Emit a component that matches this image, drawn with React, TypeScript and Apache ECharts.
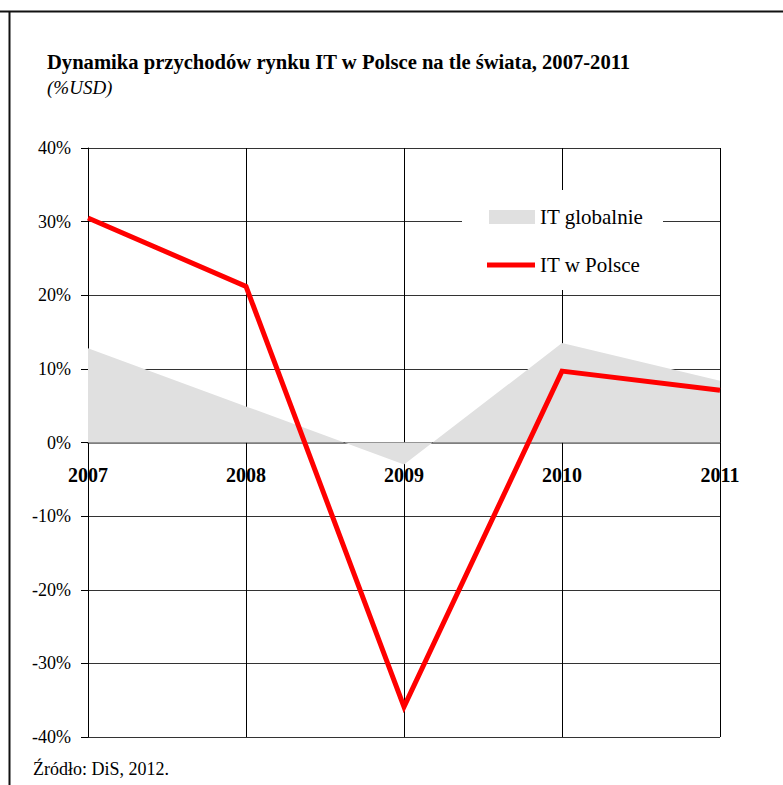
import React, { useEffect, useRef } from "react";
import * as echarts from "echarts";

const years = ["2007", "2008", "2009", "2010", "2011"];
const itGlobal = [12.8, 4.9, -3.0, 13.5, 8.4];
const itPoland = [30.5, 21.2, -35.9, 9.7, 7.1];
const yTicks = { min: -40, max: 40, interval: 10 };
const seriesNames = ["IT globalnie", "IT w Polsce"];

const titleText = "Dynamika przychodów rynku IT w Polsce na tle świata, 2007-2011";
const subtitleText = "(%USD)";
const sourceText = "Źródło: DiS, 2012.";
const serif = "'Liberation Serif', 'Times New Roman', serif";

export default function App() {
  const ref = useRef<HTMLDivElement>(null);
  useEffect(() => {
    document.body.style.margin = "0";
    if (!ref.current) return;
    const chart = echarts.init(ref.current, undefined, { renderer: "svg" });
    const gridTop = 148;
    const gridBottom = 48;
    const gridH = 785 - gridTop - gridBottom;
    const zeroOffset = -gridH * (0 - yTicks.min) / (yTicks.max - yTicks.min);
    chart.setOption({
      animation: false,
      backgroundColor: "#ffffff",
      textStyle: { fontFamily: serif },
      title: {
        text: titleText,
        subtext: subtitleText,
        left: 42,
        top: 46,
        itemGap: 6,
        textStyle: { fontFamily: serif, fontSize: 20.6, fontWeight: "bold", color: "#000" },
        subtextStyle: { fontFamily: serif, fontSize: 19, fontStyle: "italic", color: "#000" },
      },
      grid: { left: 88, right: 63, top: gridTop, bottom: gridBottom, containLabel: false },
      xAxis: {
        type: "category",
        data: years,
        boundaryGap: false,
        position: "bottom",
        offset: zeroOffset,
        axisLine: { show: true, onZero: false, lineStyle: { color: "#555", width: 1.5 } },
        axisTick: { show: true, inside: false, length: 5, lineStyle: { color: "#000" } },
        axisLabel: {
          margin: 22,
          fontFamily: serif,
          fontSize: 20,
          fontWeight: "bold",
          color: "#000",
        },
        splitLine: { show: true, lineStyle: { color: "#000", width: 1 } },
      },
      yAxis: {
        type: "value",
        min: yTicks.min,
        max: yTicks.max,
        interval: yTicks.interval,
        axisLine: { show: true, lineStyle: { color: "#000", width: 1 } },
        axisTick: { show: true, inside: false, length: 7, lineStyle: { color: "#000" } },
        axisLabel: {
          margin: 17,
          fontFamily: serif,
          fontSize: 18,
          color: "#000",
          formatter: "{value}%",
        },
        splitLine: { show: true, lineStyle: { color: "#333", width: 1 } },
      },
      series: [
        {
          name: seriesNames[0],
          type: "line",
          data: itGlobal,
          symbol: "none",
          lineStyle: { width: 0, color: "#e0e0e0" },
          itemStyle: { color: "#e0e0e0" },
          areaStyle: { color: "#e0e0e0", opacity: 1 },
          z: 1,
        },
        {
          name: seriesNames[1],
          type: "line",
          data: itPoland,
          symbol: "none",
          lineStyle: { width: 5, color: "#ff0000", join: "miter" },
          itemStyle: { color: "#ff0000" },
          z: 3,
        },
      ],
      graphic: [
        { type: "line", z: 100, shape: { x1: 0, y1: 11.5, x2: 783, y2: 11.5 }, style: { stroke: "#111", lineWidth: 2 } },
        { type: "line", z: 100, shape: { x1: 9.5, y1: 11, x2: 9.5, y2: 785 }, style: { stroke: "#111", lineWidth: 2 } },
        { type: "rect", z: 100, shape: { x: 462, y: 190, width: 201, height: 100 }, style: { fill: "#ffffff" } },
        { type: "rect", z: 101, shape: { x: 489, y: 210, width: 46, height: 14 }, style: { fill: "#e0e0e0" } },
        {
          type: "text",
          z: 101,
          x: 540,
          y: 217,
          style: { text: seriesNames[0], fontFamily: serif, fontSize: 21, fill: "#000", verticalAlign: "middle" },
        },
        { type: "line", z: 101, shape: { x1: 487, y1: 265, x2: 535, y2: 265 }, style: { stroke: "#ff0000", lineWidth: 5 } },
        {
          type: "text",
          z: 101,
          x: 540,
          y: 265,
          style: { text: seriesNames[1], fontFamily: serif, fontSize: 21, fill: "#000", verticalAlign: "middle" },
        },
        {
          type: "text",
          left: 33,
          top: 760,
          style: { text: sourceText, fontFamily: serif, fontSize: 18, fill: "#000" },
        },
      ],
    });
    return () => chart.dispose();
  }, []);
  return <div ref={ref} style={{ width: 783, height: 785 }} />;
}
